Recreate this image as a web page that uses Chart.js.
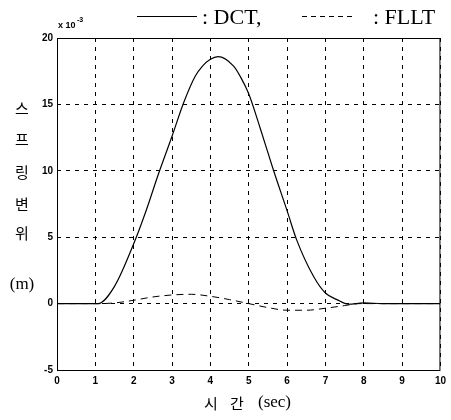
<!DOCTYPE html>
<html>
<head>
<meta charset="utf-8">
<script src="https://cdn.jsdelivr.net/npm/chart.js@4"></script>
<style>
  html, body { margin: 0; padding: 0; background: #fff; }
  #wrap { width: 451px; height: 420px; position: relative; }
</style>
</head>
<body>
<div id="wrap"><canvas id="springChart" width="451" height="420"></canvas></div>
<script>
// --------- Data (x 10^-3 m) ---------
const dctTime = [0, 1.07, 1.5, 2.0, 2.3, 2.65, 3.0, 3.3, 3.6, 3.8, 4.0, 4.2, 4.6, 4.8, 5.0, 5.3, 5.65, 6.0, 6.25, 6.7, 7.0, 7.3, 7.6, 8.0, 8.5, 10];
const dctValues = [0, 0, 1.3, 4.5, 6.8, 9.8, 12.6, 15.1, 17.1, 17.9, 18.4, 18.6, 17.9, 17.0, 15.8, 13.2, 10, 7.0, 4.8, 2.0, 0.8, 0.3, -0.05, 0.05, 0, 0];

const flltTime = [0, 1.1, 1.5, 2.0, 2.5, 3.0, 3.5, 4.0, 4.5, 5.0, 5.5, 6.0, 6.5, 7.0, 7.5, 7.9, 8.5, 10];
const flltValues = [0, 0, 0.05, 0.25, 0.5, 0.65, 0.7, 0.55, 0.3, 0, -0.3, -0.5, -0.5, -0.35, -0.15, 0, 0, 0];

const xTicks = [0, 1, 2, 3, 4, 5, 6, 7, 8, 9, 10];
const yTicks = [-5, 0, 5, 10, 15, 20];

const yTitleChars = ["스", "프", "링", "변", "위"];
const legendLabels = [": DCT,", ": FLLT"];

const toPoints = (xs, ys) => xs.map((x, i) => ({ x: x, y: ys[i] }));

// --------- Frame, legend and titles ---------
const decorations = {
  id: "decorations",
  afterDraw(chart) {
    const c = chart.ctx;
    const a = chart.chartArea;
    c.save();
    c.strokeStyle = "#000";
    c.lineWidth = 1;
    c.setLineDash([]);
    c.strokeRect(a.left + 0.5, a.top + 0.5, a.right - a.left - 1, a.bottom - a.top);

    // exponent
    c.fillStyle = "#000";
    c.font = "bold 9px 'Liberation Sans', Arial";
    c.textBaseline = "alphabetic";
    c.textAlign = "left";
    c.fillText("x 10", 58, 28);
    c.font = "bold 7px 'Liberation Sans', Arial";
    c.fillText("-3", 77, 22);

    // legend
    c.lineWidth = 1;
    c.beginPath();
    c.moveTo(137, 16.5);
    c.lineTo(197, 16.5);
    c.stroke();
    c.setLineDash([5, 4]);
    c.beginPath();
    c.moveTo(302, 16.5);
    c.lineTo(353, 16.5);
    c.stroke();
    c.setLineDash([]);
    c.font = "22px 'Liberation Serif', 'Times New Roman', serif";
    c.fillText(legendLabels[0], 202, 24);
    c.fillText(legendLabels[1], 373, 24);

    // y title, stacked
    c.textAlign = "center";
    c.textBaseline = "middle";
    c.font = "15px 'Noto Sans CJK KR', sans-serif";
    const rows = [108, 139, 172, 204, 233];
    yTitleChars.forEach((ch, i) => c.fillText(ch, 22, rows[i]));
    c.font = "17px 'Liberation Serif', serif";
    c.fillText("(m)", 22, 285);

    // x title
    c.font = "15px 'Noto Sans CJK KR', sans-serif";
    c.textAlign = "left";
    c.fillText("시", 204, 403);
    c.fillText("간", 230, 403);
    c.font = "17px 'Liberation Serif', serif";
    c.fillText("(sec)", 258, 403);
    c.restore();
  }
};

const ctx = document.getElementById("springChart").getContext("2d");

new Chart(ctx, {
  type: "scatter",
  data: {
    datasets: [
      {
        label: "DCT",
        data: toPoints(dctTime, dctValues),
        showLine: true,
        borderColor: "#000",
        borderWidth: 1.2,
        pointRadius: 0,
        cubicInterpolationMode: "monotone"
      },
      {
        label: "FLLT",
        data: toPoints(flltTime, flltValues),
        showLine: true,
        borderColor: "#000",
        borderWidth: 1,
        borderDash: [7, 5],
        pointRadius: 0,
        cubicInterpolationMode: "monotone"
      }
    ]
  },
  options: {
    responsive: false,
    animation: false,
    layout: { padding: { top: 38, right: 5, left: 0, bottom: 0 } },
    plugins: { legend: { display: false }, tooltip: { enabled: false } },
    scales: {
      x: {
        type: "linear",
        min: 0,
        max: 10,
        afterFit: (s) => { s.height = 50; },
        afterBuildTicks: (s) => { s.ticks = xTicks.map(v => ({ value: v })); },
        grid: { color: "#000", lineWidth: 1, drawTicks: false },
        border: { display: false, dash: [4, 5] },
        ticks: {
          color: "#000",
          padding: 5,
          font: { family: "'Liberation Sans', Arial", size: 10, weight: "bold" }
        }
      },
      y: {
        min: -5,
        max: 20,
        afterFit: (s) => { s.width = 57; },
        afterBuildTicks: (s) => { s.ticks = yTicks.map(v => ({ value: v })); },
        grid: { color: "#000", lineWidth: 1, drawTicks: false },
        border: { display: false, dash: [4, 5] },
        ticks: {
          color: "#000",
          padding: 4,
          font: { family: "'Liberation Sans', Arial", size: 10, weight: "bold" }
        }
      }
    }
  },
  plugins: [decorations]
});
</script>
</body>
</html>
